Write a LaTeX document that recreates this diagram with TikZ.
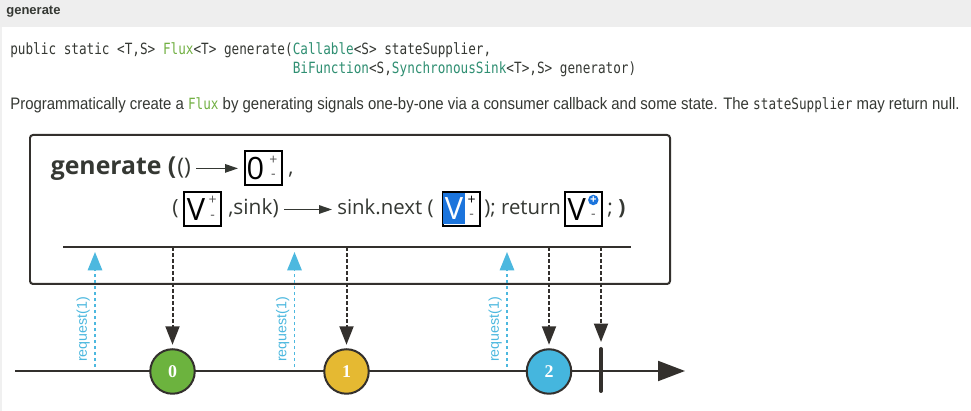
\documentclass[tikz,border=0pt]{standalone}
\usepackage{fontspec}
\setmainfont{Open Sans}
\newfontfamily\pagefont{Liberation Sans}
\newfontfamily\descfont[FakeStretch=0.9]{Liberation Sans}
\newfontfamily\codefont[FakeStretch=0.82]{DejaVu Sans Mono}
\newfontfamily\marblefont{Liberation Serif}
\usetikzlibrary{arrows.meta}
\usetikzlibrary{positioning}

\definecolor{ink}{HTML}{353833}
\definecolor{line}{HTML}{33302D}
\definecolor{headgray}{HTML}{EEEEEE}
\definecolor{edgegray}{HTML}{F0F0F0}
\definecolor{fluxgreen}{HTML}{72B043}
\definecolor{linkteal}{HTML}{2F8F72}
\definecolor{reqblue}{HTML}{4CB8DF}
\definecolor{mgreen}{HTML}{6CB33E}
\definecolor{myellow}{HTML}{E5B932}
\definecolor{mblue}{HTML}{45B6DE}
\definecolor{selblue}{HTML}{1B74DC}
\definecolor{signgray}{HTML}{555555}

\newcommand\codesize{\fontsize{8.8pt}{10pt}\selectfont}
\newcommand\formulasize{\fontsize{11.9pt}{13pt}\selectfont}

\begin{document}
\begin{tikzpicture}[x=0.02cm,y=-0.02cm,
  txt/.style={inner sep=0pt,anchor=base west,text=ink},
  sbox/.style={draw=black,line width=0.04cm,minimum width=0.74cm,minimum height=0.68cm,inner sep=0pt},
  glyph/.style={inner sep=0pt,font=\fontsize{17.5pt}{20pt}\selectfont,text=black},
  sgn/.style={inner sep=0pt,font=\fontsize{8pt}{9pt}\selectfont,text=signgray},
  fn/.style={draw=ink,line width=0.028cm,-{Triangle[width=0.17cm,length=0.26cm]}},
  marble/.style={circle,draw=line,line width=0.04cm,minimum size=0.89cm,inner sep=0pt,text=white,font=\marblefont\bfseries\fontsize{10.2pt}{11pt}\selectfont},
  emit/.style={draw=line,line width=0.04cm,dash pattern=on 0.07cm off 0.05cm,shorten >=0.07cm,-{Triangle[width=0.28cm,length=0.37cm]}},
  req/.style={draw=reqblue,line width=0.034cm,dash pattern=on 0.06cm off 0.06cm,shorten >=0.09cm,-{Triangle[width=0.29cm,length=0.37cm]}},
  reqlbl/.style={rotate=90,inner sep=0pt,text=reqblue,font=\pagefont\fontsize{8.1pt}{9pt}\selectfont}]
  \useasboundingbox (0,0) rectangle (971,411);
  % page
  \fill[white] (0,0) rectangle (971,411);
  \fill[headgray] (0,0) rectangle (971,27);
  \fill[edgegray] (0,27) rectangle (2,411);
  \node[txt,font=\pagefont\bfseries\fontsize{7.4pt}{9pt}\selectfont] (title) at (6,15) {generate};
  \node[txt,font=\codefont\codesize] (sig1) at (10,55) {public static <T,S> \textcolor{fluxgreen}{Flux}<T> generate(\textcolor{linkteal}{Callable}<S> stateSupplier,};
  \node[txt,font=\codefont\codesize] (sig2) at (10,74) {\phantom{public static <T,S> Flux<T> generate(}\textcolor{linkteal}{BiFunction}<S,\textcolor{linkteal}{SynchronousSink}<T>,S> generator)};
  \node[txt,font=\descfont\fontsize{9.45pt}{11pt}\selectfont] (desc) at (10,110) {Programmatically create a {\codefont\codesize\color{fluxgreen}Flux} by generating signals one-by-one via a consumer callback and some state. The {\codefont\codesize stateSupplier} may return null.};

  % operator box
  \draw[line,line width=0.04cm,rounded corners=0.06cm] (30,135) rectangle (670,284);
  \node[txt,font=\bfseries\fontsize{14.1pt}{16pt}\selectfont] (gen) at (50.5,175) {generate (};
  \node[txt,font=\fontsize{13pt}{15pt}\selectfont] (unit) at (177,175) {()};
  \node[sbox] (z0) at (263.5,168.4) {};
  \node[glyph] at ([shift={(-8,0.6)}]z0.center) {0};
  \node[sgn] at ([shift={(9.8,-8.4)}]z0.center) {+};
  \node[sgn] at ([shift={(9.8,8.3)}]z0.center) {-};
  \node[txt,font=\formulasize] (comma) at (288,175) {,};
  \draw[fn,shorten <=0.1cm,shorten >=0.12cm] (unit.east |- z0.west) -- (z0.west);

  \node[txt,font=\formulasize] (lp) at (172,215) {(};
  \node[sbox] (z1) at (202.5,209.5) {};
  \node[glyph] at ([shift={(-6.5,0.5)}]z1.center) {V};
  \node[sgn] at ([shift={(10.2,-8.8)}]z1.center) {+};
  \node[sgn] at ([shift={(10.2,7.5)}]z1.center) {-};
  \node[txt,font=\formulasize] (sinkarg) at (228,215) {,sink)};
  \node[txt,font=\fontsize{11.6pt}{13pt}\selectfont] (next) at (337,215) {sink.next (};
  \draw[fn,shorten <=0.1cm,shorten >=0.1cm] (sinkarg.east |- z1.east) -- (next.west |- z1.east);
  \node[sbox] (z2) at (461.2,209) {};
  \node[glyph,fill=selblue,text=white,minimum width=0.44cm,minimum height=0.62cm] at (454,208.5) {V};
  \node[sgn,text=black] at ([shift={(10.5,-9)}]z2.center) {+};
  \node[sgn] at ([shift={(10.5,7.7)}]z2.center) {-};
  \node[txt,font=\fontsize{11.6pt}{13pt}\selectfont] (ret) at (484,215) {); return};
  \node[sbox] (z3) at (583,209) {};
  \node[glyph] at ([shift={(-6.3,1)}]z3.center) {V};
  \node[circle,fill=selblue,minimum size=0.21cm,inner sep=0pt,text=white,font=\bfseries\fontsize{6.5pt}{7pt}\selectfont] at ([shift={(10.3,-9)}]z3.center) {+};
  \node[sgn] at ([shift={(10.3,7.7)}]z3.center) {-};
  \node[txt,font=\formulasize] (close) at (607,215) {; \textbf{)}};

  \coordinate (op0) at (63,247.5);
  \coordinate (op1) at (631,247.5);
  \draw[line,line width=0.04cm] (op0) -- (op1);

  % timeline
  \coordinate (t0) at (15,371);
  \coordinate (t1) at (685,371);
  \draw[line,line width=0.04cm,-{Triangle[width=0.4cm,length=0.54cm]}] (t0) -- (t1);
  \node[marble,fill=mgreen] (m0) at (172.5,371.5) {0};
  \node[marble,fill=myellow] (m1) at (346.5,371.5) {1};
  \node[marble,fill=mblue] (m2) at (549,371.5) {2};
  \coordinate (dn0) at (601,349);
  \coordinate (dn1) at (601,391);
  \draw[line,line width=0.08cm,line cap=round] (dn0) -- (dn1);

  \draw[emit] (m0 |- op0) -- (m0);
  \draw[emit] (m1 |- op0) -- (m1);
  \draw[emit] (m2 |- op0) -- (m2);
  \draw[emit,shorten >=0.14cm] (dn0 |- op0) -- (dn0);

  \coordinate (r0) at (95,367);
  \coordinate (r1) at (294.5,367);
  \coordinate (r2) at (507,367);
  \draw[req] (r0) -- (r0 |- op0);
  \draw[req] (r1) -- (r1 |- op0);
  \draw[req] (r2) -- (r2 |- op0);
  \node[reqlbl] (q0) at (83.3,329.5) {request(1)};
  \node[reqlbl] (q1) at (282.8,329.5) {request(1)};
  \node[reqlbl] (q2) at (495.3,329.5) {request(1)};
\end{tikzpicture}
\end{document}
